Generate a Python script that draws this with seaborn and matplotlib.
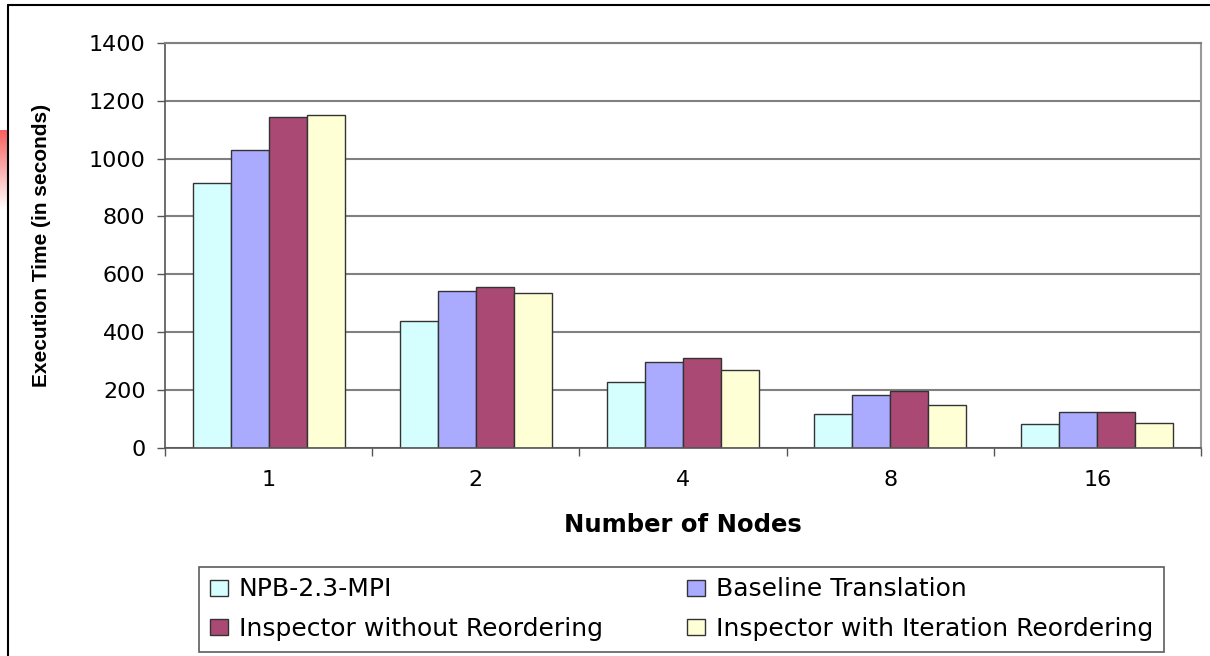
import matplotlib
matplotlib.use("Agg")
import matplotlib.pyplot as plt
import seaborn as sns
import pandas as pd
import numpy as np
from matplotlib.lines import Line2D
from matplotlib.ticker import FixedLocator
from matplotlib.colors import LinearSegmentedColormap

nodes = ["1", "2", "4", "8", "16"]
series = ["NPB-2.3-MPI", "Baseline Translation",
          "Inspector without Reordering", "Inspector with Iteration Reordering"]
npb = [914, 437, 225, 116, 80]
baseline = [1029, 540, 297, 182, 122]
insp_no = [1144, 557, 309, 195, 122]
insp_iter = [1151, 534, 268, 147, 85]
colors = ["#D5FFFF", "#AAAAFF", "#AA4A74", "#FFFFD5"]

rows = []
for s, vals in zip(series, [npb, baseline, insp_no, insp_iter]):
    for n, v in zip(nodes, vals):
        rows.append({"Nodes": n, "Series": s, "Time": v})
df = pd.DataFrame(rows)

sns.set_style("white")
plt.rcParams['font.family'] = ['DejaVu Sans']
plt.rcParams['text.color'] = 'black'
plt.rcParams['axes.labelcolor'] = 'black'
plt.rcParams['xtick.color'] = 'black'
plt.rcParams['ytick.color'] = 'black'

W, H = 1210, 656
fig = plt.figure(figsize=(W / 100, H / 100), dpi=100)
L, R, T, B = 165, 1201, 43, 447.5
ax = fig.add_axes([L / W, 1 - B / H, (R - L) / W, (B - T) / H])

sns.barplot(data=df, x="Nodes", y="Time", hue="Series", order=nodes,
            hue_order=series, palette=colors, width=0.734, ax=ax,
            edgecolor="#333333", linewidth=1.0, saturation=1, legend=False)

ax.set_ylim(0, 1400)
ax.set_xlim(-0.5, 4.5)
ax.set_yticks(range(0, 1401, 200))
ax.yaxis.grid(True, color="#808080", linewidth=1.5)
ax.set_axisbelow(True)
for side in ["left", "bottom"]:
    ax.spines[side].set_color("#555555")
    ax.spines[side].set_linewidth(1.2)
ax.spines["right"].set_color("#999999")
ax.spines["right"].set_linewidth(1.5)
ax.spines["top"].set_color("#808080")
ax.spines["top"].set_linewidth(1.5)

ax.tick_params(axis="y", which="major", direction="out", length=6, width=1,
               color="#555555", labelcolor="black", pad=8, labelsize=16, left=True)
ax.tick_params(axis="x", which="major", length=0, pad=16, labelsize=16,
               labelcolor="black")
ax.xaxis.set_minor_locator(FixedLocator(np.arange(-0.5, 5.0, 1.0)))
ax.tick_params(axis="x", which="minor", direction="out", length=6, width=1,
               color="#555555", bottom=True)

ax.set_ylabel("Execution Time (in seconds)", fontsize=15, fontweight="bold",
              family=["Liberation Sans", "DejaVu Sans"], color="black")
ax.yaxis.set_label_coords((51 - L) / (R - L), 0.5)
ax.set_xlabel("Number of Nodes", fontsize=17.5, fontweight="bold", color="black")
ax.xaxis.set_label_coords(0.5, (B - 513) / (B - T))

handles = [plt.Rectangle((0, 0), 1, 1, facecolor=c, edgecolor="#333333", linewidth=1.0)
           for c in colors]
order = [0, 2, 1, 3]
lx0, ly0, lx1, ly1 = 199, 567, 1164, 649
leg = fig.legend([handles[i] for i in order], [series[i] for i in order],
                 loc="upper left",
                 bbox_to_anchor=(lx0 / W, 1 - ly0 / H, (lx1 - lx0) / W, 0.0),
                 mode="expand", ncol=2, fontsize=18, frameon=True, fancybox=False,
                 handlelength=0.72, handleheight=0.62, handletextpad=0.45,
                 borderaxespad=0, borderpad=0.42, labelspacing=0.62, columnspacing=1.0)
leg.get_frame().set_edgecolor("#333333")
leg.get_frame().set_linewidth(1.2)

# outer frame lines (top and left)
fig.add_artist(Line2D([8 / W, 1], [1 - 5 / H, 1 - 5 / H], color="black", lw=1.5,
                      transform=fig.transFigure))
fig.add_artist(Line2D([8 / W, 8 / W], [0, 1 - 5 / H], color="black", lw=1.5,
                      transform=fig.transFigure))

# red gradient artifact at the left edge
gax = fig.add_axes([0, 1 - 210 / H, 7 / W, 80 / H])
grad = np.linspace(0, 1, 50).reshape(-1, 1)
grad = np.hstack([grad, grad])
cm = LinearSegmentedColormap.from_list("rw", ["#F86060", "#FFFFFF"])
gax.imshow(grad, aspect="auto", cmap=cm)
gax.axis("off")

fig.savefig("out.png", dpi=100)
